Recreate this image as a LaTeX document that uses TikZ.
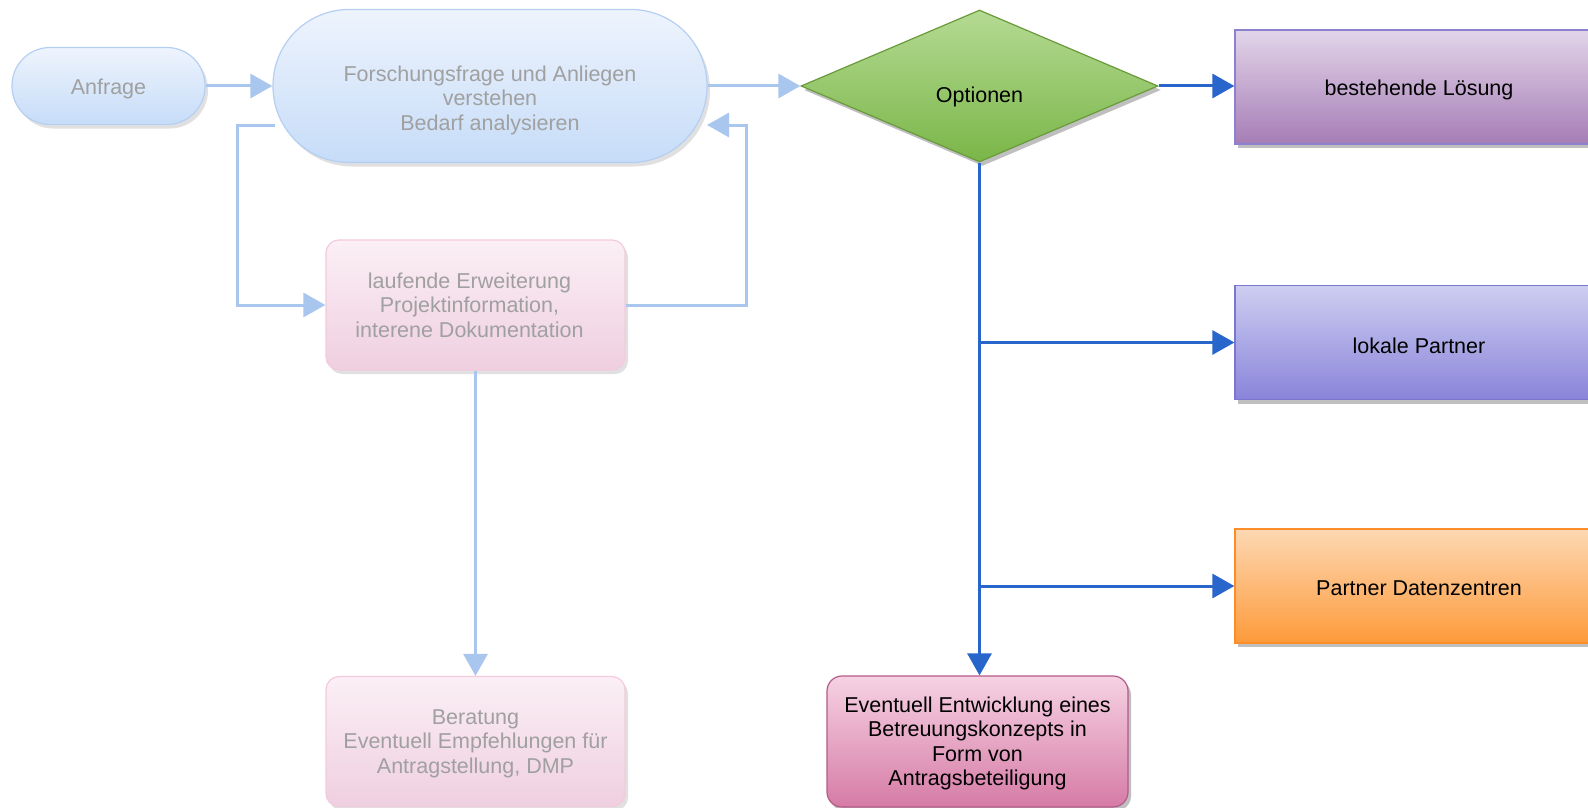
\documentclass[tikz,border=0pt]{standalone}
\usepackage{fontspec}
\setmainfont{Liberation Sans}
\usetikzlibrary{shapes.geometric,shadows,arrows.meta}
\definecolor{lbTop}{HTML}{EEF4FD}
\definecolor{lbBot}{HTML}{C6DCF8}
\definecolor{lbLine}{HTML}{B5CFF2}
\definecolor{lpTop}{HTML}{FBEFF5}
\definecolor{lpBot}{HTML}{EFCFE0}
\definecolor{lpLine}{HTML}{F4CADD}
\definecolor{fadeText}{HTML}{A0A0A0}
\definecolor{lightArrow}{HTML}{A9C6EE}
\definecolor{darkArrow}{HTML}{2966CC}
\definecolor{grTop}{HTML}{B5DA93}
\definecolor{grBot}{HTML}{7AB648}
\definecolor{grLine}{HTML}{6A9A3A}
\definecolor{puTop}{HTML}{E2D5E9}
\definecolor{puBot}{HTML}{A67DB6}
\definecolor{puLine}{HTML}{8C80D0}
\definecolor{viTop}{HTML}{CDCEF1}
\definecolor{viBot}{HTML}{8A84DA}
\definecolor{viLine}{HTML}{7B77CF}
\definecolor{orTop}{HTML}{FDD8B3}
\definecolor{orBot}{HTML}{FD9A3A}
\definecolor{orLine}{HTML}{FD8C2A}
\definecolor{pkTop}{HTML}{F6D2E3}
\definecolor{pkBot}{HTML}{D67BA6}
\definecolor{pkLine}{HTML}{B45A88}
\begin{document}
\begin{tikzpicture}[x=1pt,y=-1pt,
  ntext/.style={font=\fontsize{21.5}{24.5}\selectfont, align=center},
  fadetext/.style={ntext, text=fadeText},
  softshadow/.style={drop shadow={shadow xshift=3pt, shadow yshift=-4pt, opacity=0.12, fill=black}},
  hardshadow/.style={drop shadow={shadow xshift=3pt, shadow yshift=-4pt, opacity=0.25, fill=black}},
  fadeblue/.style={draw=lbLine, line width=1.2pt, top color=lbTop, bottom color=lbBot, softshadow, inner sep=0pt},
  fadepink/.style={draw=lpLine, line width=1.2pt, top color=lpTop, bottom color=lpBot, softshadow,
     rounded corners=13pt, minimum width=299pt, minimum height=130pt, inner sep=0pt},
  optbox/.style={rectangle, line width=1.2pt, minimum width=368pt, minimum height=114pt, inner sep=0pt, hardshadow},
  la/.style={draw=lightArrow, line width=3pt, -{Triangle[length=22pt,width=24pt]}},
  da/.style={draw=darkArrow, line width=3pt, -{Triangle[length=22pt,width=24pt]}}
]
\useasboundingbox (0,0) rectangle (1588,808);
\clip (0,0) rectangle (1588,808);

% light nodes
\node[fadeblue, rounded corners=38pt, minimum width=193pt, minimum height=77pt,
      label={[fadetext, yshift=-3pt]center:Anfrage}] (an) at (108.5,86) {};
\node[fadeblue, rounded corners=76pt, minimum width=434pt, minimum height=153pt,
      label={[fadetext, yshift=-14pt]center:Forschungsfrage und Anliegen\\verstehen\\Bedarf analysieren}] (fo) at (490,86) {};
\node[fadepink, label={[fadetext, xshift=-6pt]center:laufende Erweiterung\\Projektinformation,\\interene Dokumentation}] (lauf) at (475.5,305) {};
\node[fadepink, label={[fadetext, yshift=-2pt]center:Beratung\\Eventuell Empfehlungen f\"ur\\Antragstellung, DMP}] (ber) at (475.5,741.5) {};

% decision
\node[diamond, draw=grLine, line width=1.2pt, top color=grTop, bottom color=grBot, hardshadow,
      minimum width=357pt, minimum height=152pt, inner sep=0pt,
      label={[ntext, yshift=-11pt]center:Optionen}] (dia) at (979.5,86) {};

% option boxes
\node[optbox, draw=puLine, top color=puTop, bottom color=puBot,
      label={[ntext, yshift=-3pt]center:bestehende L\"osung}] (best) at (1419,87) {};
\node[optbox, draw=viLine, top color=viTop, bottom color=viBot,
      label={[ntext, yshift=-3pt]center:lokale Partner}] (lok) at (1419,342.5) {};
\node[optbox, draw=orLine, top color=orTop, bottom color=orBot,
      label={[ntext, yshift=-2pt]center:Partner Datenzentren}] (pd) at (1419,586) {};
\node[rectangle, rounded corners=15pt, draw=pkLine, line width=1.2pt, top color=pkTop, bottom color=pkBot, hardshadow,
      minimum width=301pt, minimum height=131pt, inner sep=0pt,
      label={[ntext, yshift=-2pt]center:Eventuell Entwicklung eines\\Betreuungskonzepts in\\Form von\\Antragsbeteiligung}] (ev) at (977.5,741.5) {};

% light connectors
\coordinate (loopL) at (275,125);
\coordinate (loopR) at (707,125);
\draw[la] (an.east) -- (fo.west);
\draw[la] (fo.east) -- (dia.west);
\draw[la] (loopL) -- (237,125) |- (lauf.west);
\draw[la] (lauf.east) -- (746,305) |- (loopR);
\draw[la] (lauf.south) -- (ber.north);

% dark connectors
\draw[da] (dia.east) -- (dia.east -| best.west);
\draw[da] (dia.south) -- (dia.south |- ev.north);
\draw[da] (dia.south |- lok.west) -- (lok.west);
\draw[da] (dia.south |- pd.west) -- (pd.west);
\end{tikzpicture}
\end{document}
